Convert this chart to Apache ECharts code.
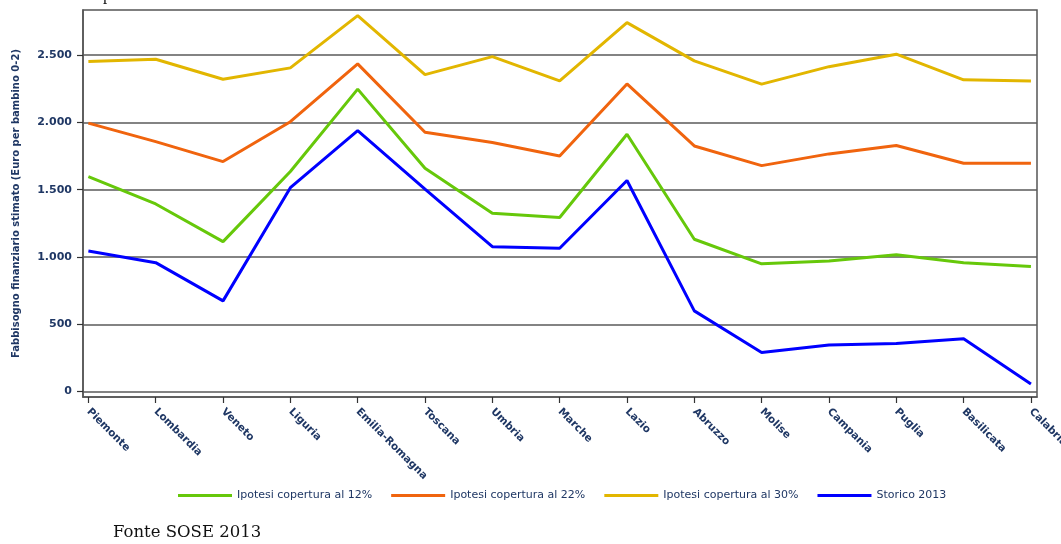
<!DOCTYPE html>
<html><head><meta charset="utf-8">
<script src="https://cdn.jsdelivr.net/npm/echarts@6/dist/echarts.min.js"></script>
<style>html,body{margin:0;padding:0;background:#fff}#c{width:1061px;height:544px}</style>
</head><body><div id="c"></div>
<script>
const categories = ['Piemonte','Lombardia','Veneto','Liguria','Emilia-Romagna','Toscana','Umbria','Marche','Lazio','Abruzzo','Molise','Campania','Puglia','Basilicata','Calabria'];
const ipotesi12 = [1597,1394,1114,1635,2247,1660,1325,1293,1912,1132,949,971,1016,958,929];
const ipotesi22 = [1995,1857,1709,2005,2435,1927,1850,1751,2286,1825,1679,1766,1828,1697,1697];
const ipotesi30 = [2452,2469,2321,2405,2793,2355,2489,2308,2741,2457,2284,2414,2507,2316,2308];
const storico2013 = [1045,958,674,1515,1939,1505,1077,1065,1568,600,290,347,357,392,57];
const seriesNames = ['Ipotesi copertura al 12%','Ipotesi copertura al 22%','Ipotesi copertura al 30%','Storico 2013'];
const yTicks = [0,500,1000,1500,2000,2500];
const xIdx = categories.map((c,i)=>i);

const navy = '#1f3764';
const font = 'DejaVu Sans';
const colors = ['#66c80a','#f0640e','#e2b600','#0000ff'];
const allSeries = [ipotesi12, ipotesi22, ipotesi30, storico2013];

const fmt = v => String(v).replace(/\B(?=(\d{3})+(?!\d))/g, '.');

const chart = echarts.init(document.getElementById('c'), null, {renderer:'canvas'});
chart.setOption({
  backgroundColor:'#fff',
  animation:false,
  grid:{left:83, right:24, top:10, bottom:147, show:true, borderColor:'#555', borderWidth:1.5, outerBoundsMode:'none', containLabel:false},
  legend:{
    left:178, top:490, padding:0, icon:'rect', itemWidth:54, itemHeight:3, itemGap:19,
    data:seriesNames,
    textStyle:{fontFamily:font, fontSize:11, color:navy}
  },
  xAxis:{
    type:'value', min:-0.08, max:14.09,
    axisLine:{show:true, onZero:false, lineStyle:{color:'#555', width:1.5}},
    axisTick:{show:true, length:6, customValues:xIdx, lineStyle:{color:'#333', width:1.2}},
    splitLine:{show:false},
    axisLabel:{customValues:xIdx, rotate:-45, margin:13, formatter:v=>categories[Math.round(v)]||'',
      fontFamily:font, fontSize:10.5, fontWeight:'bold', color:navy}
  },
  yAxis:{
    type:'value', min:-40, max:2835,
    name:'Fabbisogno finanziario stimato (Euro per bambino 0-2)', nameLocation:'middle', nameGap:62,
    nameTextStyle:{fontFamily:font, fontSize:10, fontWeight:'bold', color:navy},
    axisLine:{show:true, onZero:false, lineStyle:{color:'#555', width:1.5}},
    axisTick:{show:true, length:6, customValues:yTicks, lineStyle:{color:'#333', width:1.2}},
    axisLabel:{customValues:yTicks, margin:11, formatter:fmt, fontFamily:font, fontSize:11, fontWeight:'bold', color:navy},
    splitLine:{show:true, lineStyle:{color:'#5a5a5a', width:1.5}}
  },
  series: allSeries.map((vals,k)=>({
    name:seriesNames[k], type:'line', symbol:'none', smooth:false,
    data: vals.map((v,i)=>[i,v]),
    lineStyle:{color:colors[k], width:3},
    itemStyle:{color:colors[k]}
  })),
  graphic:[
    {type:'text', left:113, top:524, style:{text:'Fonte SOSE 2013', font:'16.5px "DejaVu Serif"', fill:'#111'}},
    {type:'text', left:103, top:-13, style:{text:'p', font:'17px "Liberation Serif"', fill:'#111'}}
  ]
});
</script></body></html>
